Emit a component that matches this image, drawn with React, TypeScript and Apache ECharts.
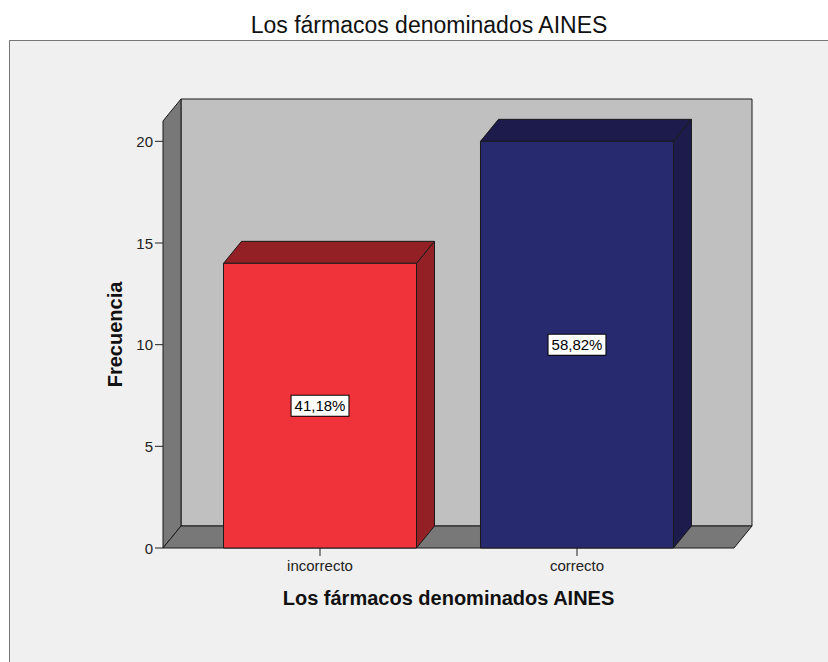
import React, { useEffect, useRef } from 'react';
import * as echarts from 'echarts';

const chartTitle = 'Los fármacos denominados AINES';
const categories = ['incorrecto', 'correcto'];
const frequencies = [14, 20];
const yTicks = [0, 5, 10, 15, 20];
const yMax = 21;
const xAxisName = 'Los fármacos denominados AINES';
const yAxisName = 'Frecuencia';

const FONT = '"Liberation Sans", Arial, Helvetica, sans-serif';
const DX = 18;
const DY = -22;
const TICK = 8;
const BAR_HALF = 0.3755;
const X_MIN = -0.611;
const X_MAX = 1.611;
const FRONT = ['#F0333B', '#282A70'];
const DARK = ['#932024', '#1C1B4C'];
const EDGE = '#1a1a1a';

export default function App() {
  const ref = useRef<HTMLDivElement>(null);
  useEffect(() => {
    const chart = echarts.init(ref.current as HTMLDivElement, null, { renderer: 'svg' });
    const total = frequencies.reduce((a, b) => a + b, 0);
    const pct = (v: number) => ((v / total) * 100).toFixed(2).replace('.', ',') + '%';

    const option: any = {
      animation: false,
      backgroundColor: 'transparent',
      title: {
        text: chartTitle,
        left: 424,
        top: 8,
        textAlign: 'center',
        textStyle: { fontSize: 23, fontWeight: 'normal', fontFamily: FONT, color: '#111' },
      },
      grid: { left: 163, top: 121, width: 571, height: 427 },
      xAxis: {
        type: 'value',
        min: X_MIN,
        max: X_MAX,
        splitLine: { show: false },
        axisLine: { show: false },
        axisTick: { show: false },
        axisLabel: {
          customValues: [0, 1],
          formatter: (v: number) => categories[Math.round(v)] ?? '',
          fontSize: 15,
          fontFamily: FONT,
          color: '#222',
          margin: 10,
        },
        name: xAxisName,
        nameLocation: 'middle',
        nameGap: 40,
        nameTextStyle: { fontSize: 20, fontWeight: 'bold', fontFamily: FONT, color: '#111' },
      },
      yAxis: {
        type: 'value',
        min: 0,
        max: yMax,
        splitLine: { show: false },
        axisLine: { show: false },
        axisTick: { show: false },
        axisLabel: {
          customValues: yTicks,
          fontSize: 15,
          fontFamily: FONT,
          color: '#222',
          margin: 10,
        },
        name: yAxisName,
        nameLocation: 'middle',
        nameRotate: 90,
        nameGap: 38,
        nameTextStyle: { fontSize: 20, fontWeight: 'bold', fontFamily: FONT, color: '#111' },
      },
      series: [
        {
          type: 'custom',
          z: 1,
          silent: true,
          data: [[0, 0]],
          renderItem: (params: any, api: any) => {
            const cs = params.coordSys;
            const x0 = cs.x;
            const x1 = cs.x + cs.width;
            const yt = cs.y;
            const yb = cs.y + cs.height;
            const yTickLines = yTicks.map((t) => {
              const p = api.coord([X_MIN, t]);
              return {
                type: 'line',
                shape: { x1: p[0] - TICK, y1: p[1], x2: p[0], y2: p[1] },
                style: { stroke: '#222', lineWidth: 1 },
              };
            });
            const xTickLines = categories.map((_, i) => {
              const p = api.coord([i, 0]);
              return {
                type: 'line',
                shape: { x1: p[0], y1: p[1], x2: p[0], y2: p[1] + TICK },
                style: { stroke: '#222', lineWidth: 1 },
              };
            });
            return {
              type: 'group',
              children: [
                {
                  type: 'rect',
                  shape: { x: x0 + DX, y: yt + DY, width: x1 - x0, height: yb - yt },
                  style: { fill: '#C0C0C0', stroke: EDGE, lineWidth: 1 },
                },
                {
                  type: 'polygon',
                  shape: { points: [[x0, yb], [x0, yt], [x0 + DX, yt + DY], [x0 + DX, yb + DY]] },
                  style: { fill: '#787878', stroke: EDGE, lineWidth: 1 },
                },
                {
                  type: 'polygon',
                  shape: { points: [[x0, yb], [x1, yb], [x1 + DX, yb + DY], [x0 + DX, yb + DY]] },
                  style: { fill: '#787878', stroke: EDGE, lineWidth: 1 },
                },
                ...yTickLines,
                ...xTickLines,
              ],
            };
          },
        },
        {
          type: 'custom',
          z: 2,
          silent: true,
          data: frequencies.map((v, i) => [i, v]),
          renderItem: (params: any, api: any) => {
            const i = api.value(0);
            const v = api.value(1);
            const tl = api.coord([i - BAR_HALF, v]);
            const br = api.coord([i + BAR_HALF, 0]);
            const xl = tl[0];
            const xr = br[0];
            const yt = tl[1];
            const yb = br[1];
            return {
              type: 'group',
              children: [
                {
                  type: 'polygon',
                  shape: { points: [[xl, yt], [xr, yt], [xr + DX, yt + DY], [xl + DX, yt + DY]] },
                  style: { fill: DARK[i], stroke: EDGE, lineWidth: 1 },
                },
                {
                  type: 'polygon',
                  shape: { points: [[xr, yt], [xr, yb], [xr + DX, yb + DY], [xr + DX, yt + DY]] },
                  style: { fill: DARK[i], stroke: EDGE, lineWidth: 1 },
                },
                {
                  type: 'rect',
                  shape: { x: xl, y: yt, width: xr - xl, height: yb - yt },
                  style: { fill: FRONT[i], stroke: EDGE, lineWidth: 1 },
                },
                {
                  type: 'text',
                  x: (xl + xr) / 2,
                  y: (yt + yb) / 2,
                  style: {
                    text: pct(v),
                    font: `15px ${FONT}`,
                    fill: '#000',
                    align: 'center',
                    verticalAlign: 'middle',
                    backgroundColor: '#ffffff',
                    borderColor: '#000',
                    borderWidth: 1,
                    padding: [3, 3, 2, 3],
                  },
                },
              ],
            };
          },
        },
      ],
    };
    chart.setOption(option);
    return () => chart.dispose();
  }, []);
  return (
    <div
      style={{
        position: 'fixed',
        left: 0,
        top: 0,
        width: 828,
        height: 662,
        background: '#ffffff',
        overflow: 'hidden',
      }}
    >
      <div
        style={{
          position: 'absolute',
          left: 9,
          top: 40,
          width: 840,
          height: 660,
          background: '#F0F0F0',
          border: '1.5px solid #777',
          boxSizing: 'border-box',
        }}
      />
      <div
        ref={ref}
        style={{ position: 'absolute', left: 0, top: 0, width: 828, height: 662 }}
      />
    </div>
  );
}
